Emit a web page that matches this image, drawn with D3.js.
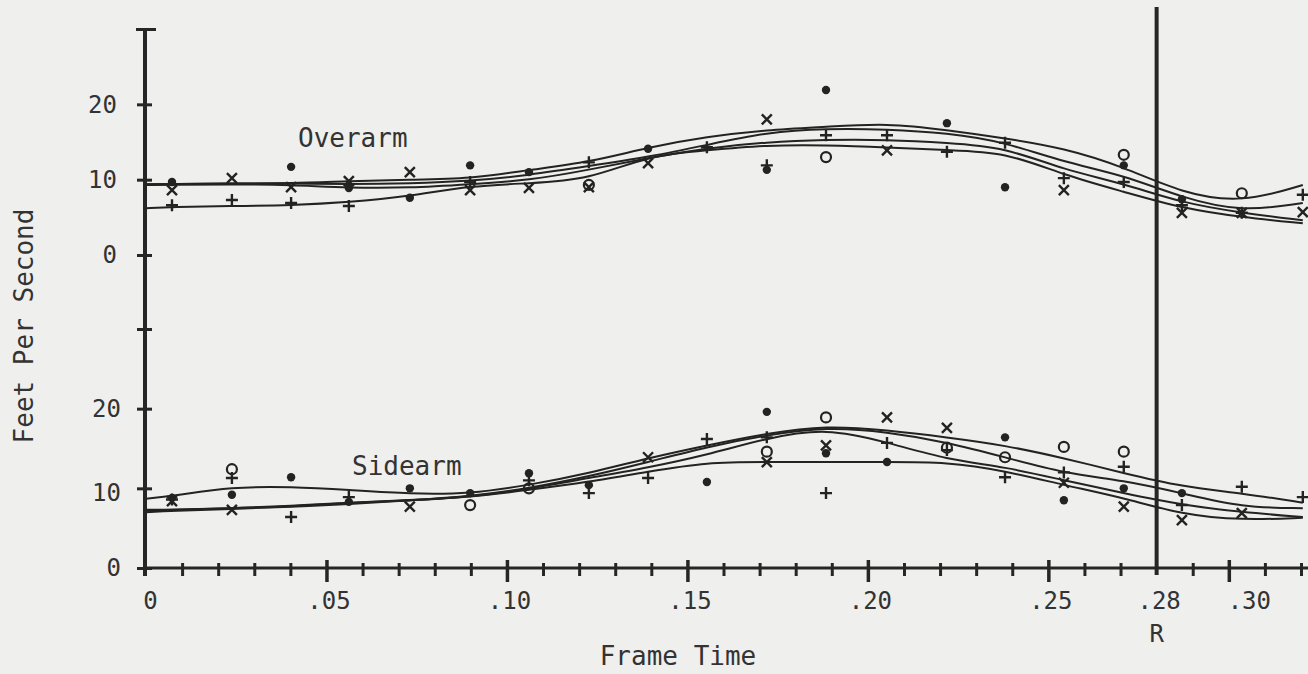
<!DOCTYPE html>
<html>
<head>
<meta charset="utf-8">
<script src="https://cdn.jsdelivr.net/npm/d3@7"></script>
<style>
  body { margin: 0; background: #efefed; }
  svg { display: block; font-family: 'DejaVu Sans Mono', monospace; }
</style>
</head>
<body>
<svg id="chart"></svg>
<script>
// frame times (s) of the digitised film frames
const frameTimes = [0.0072, 0.0238, 0.0402, 0.0562, 0.0731, 0.0898, 0.1061, 0.1227, 0.1391, 0.1554,
                    0.1720, 0.1884, 0.2053, 0.2219, 0.2380, 0.2543, 0.2709, 0.2870, 0.3036, 0.3205];
// fitted curves start at t = 0
const curveTimes = [0].concat(frameTimes);

// overarm fitted curves (ft/s)
const overarmFit1 = [9.4, 9.4, 9.5, 9.5, 9.8, 10.0, 10.1, 11.3, 12.3, 14.3, 15.7, 16.6, 17.0, 17.5, 16.6, 15.5, 14.2, 11.7, 8.2, 6.9, 9.3];
const overarmFit2 = [9.4, 9.4, 9.5, 9.5, 9.4, 9.5, 9.8, 10.6, 11.8, 13.0, 14.6, 16.3, 16.8, 16.7, 16.2, 15.0, 12.3, 10.6, 7.6, 5.7, 6.9];
const overarmFit3 = [9.3, 9.3, 9.4, 9.3, 8.9, 8.9, 9.4, 9.9, 11.3, 12.9, 14.2, 15.0, 15.3, 15.3, 14.9, 14.3, 11.3, 9.5, 6.9, 5.6, 4.6];
const overarmFit4 = [6.2, 6.4, 6.5, 6.6, 7.0, 7.8, 9.2, 9.5, 10.0, 13.2, 13.9, 14.6, 14.6, 14.3, 13.9, 13.7, 10.6, 8.4, 6.2, 5.0, 4.2];

// overarm plotted points, one array per symbol (null = not visible)
const overarmDot    = [9.7, null, 11.7, 8.9, 7.6, 11.9, 11.0, null, 14.1, null, 11.3, 21.9, null, 17.5, 9.0, null, 11.9, 7.4, null, null];
const overarmCross  = [8.6, 10.2, 9.0, 9.8, 11.0, 8.6, 8.9, 9.0, 12.2, null, 18.0, null, 13.9, null, null, 8.6, null, 5.6, 5.6, 5.7];
const overarmPlus   = [6.6, 7.3, 6.9, 6.5, null, 9.7, null, 12.3, null, 14.3, 11.9, 15.9, 15.9, 13.7, 14.9, 10.2, 9.7, 6.6, 5.6, 8.0];
const overarmCircle = [null, null, null, null, null, null, null, 9.3, null, null, null, 13.0, null, null, null, null, 13.3, null, 8.2, null];

// sidearm fitted curves (ft/s)
const sidearmFit1 = [8.7, 9.0, 10.2, 10.2, 9.8, 9.3, 9.3, 10.4, 11.9, 13.8, 15.4, 16.9, 17.9, 17.3, 16.4, 15.4, 13.8, 11.9, 10.2, 9.4, 8.2];
const sidearmFit2 = [7.3, 7.3, 7.5, 7.8, 8.2, 8.5, 9.0, 10.0, 11.5, 13.3, 15.2, 16.7, 17.7, 17.1, 15.8, 13.9, 11.9, 11.0, 9.4, 7.6, 7.5];
const sidearmFit3 = [7.2, 7.3, 7.5, 7.7, 8.2, 8.5, 8.9, 9.9, 11.3, 12.6, 14.2, 16.3, 17.6, 15.8, 13.6, 12.7, 11.0, 9.4, 7.9, 7.0, 6.4];
const sidearmFit4 = [7.0, 7.2, 7.4, 7.7, 8.0, 8.5, 8.9, 9.8, 10.8, 12.1, 13.3, 13.3, 13.3, 13.3, 13.3, 12.2, 10.4, 8.8, 6.7, 6.0, 6.3];

// sidearm plotted points
const sidearmDot    = [8.8, 9.2, 11.4, 8.3, 10.0, 9.4, 11.9, 10.4, null, 10.8, 19.6, 14.4, 13.3, null, 16.4, 8.5, 10.0, 9.4, null, null];
const sidearmCross  = [8.4, 7.3, null, null, 7.7, null, null, null, 13.9, null, 13.3, 15.4, 18.9, 17.6, null, 10.7, 7.7, 6.0, 6.9, null];
const sidearmPlus   = [8.6, 11.3, 6.4, 8.9, null, null, 11.0, 9.4, 11.3, 16.2, 16.4, 9.4, 15.7, 14.8, 11.4, 12.0, 12.7, 7.9, 10.2, 8.9];
const sidearmCircle = [null, 12.4, null, null, null, 7.9, 10.0, null, null, null, 14.6, 18.9, null, 15.1, 13.9, 15.2, 14.6, null, null, null];

// axis ticks
const xTickValues = [0, 0.05, 0.10, 0.15, 0.20, 0.25, 0.28, 0.30];
const xTickLabels = ['0', '.05', '.10', '.15', '.20', '.25', '.28', '.30'];
const yTickValues = [0, 10, 20, 30];
const releaseTime = 0.28;

class velocityChart {

  constructor(_config) {
    this.config = {
      parentElement: _config.parentElement,
      containerWidth: _config.containerWidth || 1308,
      containerHeight: _config.containerHeight || 674,
      margin: _config.margin || {top: 29, right: 7, bottom: 106, left: 146}
    }
    this.initVis();
  }

  initVis() {
    let vis = this;

    vis.width = vis.config.containerWidth - vis.config.margin.left - vis.config.margin.right;
    vis.height = vis.config.containerHeight - vis.config.margin.top - vis.config.margin.bottom;

    vis.svg = d3.select(vis.config.parentElement)
      .attr('width', vis.config.containerWidth)
      .attr('height', vis.config.containerHeight);

    vis.chart = vis.svg.append('g')
      .attr('transform', `translate(${vis.config.margin.left},${vis.config.margin.top})`);

    vis.xScale = d3.scaleLinear()
      .domain([0, 0.32])
      .range([0, vis.width]);

    // two panels share the one y axis line
    vis.yTop = d3.scaleLinear()
      .domain([0, 30])
      .range([226, 0]);

    vis.yBottom = d3.scaleLinear()
      .domain([0, 30])
      .range([vis.height, 300]);

    vis.renderVis();
  }

  drawAxes() {
    let vis = this;
    const ink = '#262626';

    // y axis ticks, one axis per panel
    [vis.yTop, vis.yBottom].forEach((scale, i) => {
      const g = vis.chart.append('g')
        .attr('class', 'axis y-axis')
        .call(d3.axisLeft(scale)
          .tickValues(yTickValues)
          .tickSize(9)
          .tickPadding(i == 0 ? 20 : 16)
          .tickFormat(d => d == 30 ? '' : d));
      g.select('.domain').remove();
      g.selectAll('.tick line')
        .attr('stroke', ink)
        .attr('stroke-width', 3)
        .attr('x1', d => d == 30 && i == 0 ? 10 : 6)
        .attr('x2', d => d == 30 && i == 0 ? -10 : -9);
      g.selectAll('.tick text')
        .attr('fill', '#333')
        .attr('dy', d => i == 1 && d == 10 ? '0.5em' : '0.32em')
        .style('font-size', '24px')
        .style('font-family', "'DejaVu Sans Mono', monospace");
    });

    vis.chart.append('line')
      .attr('x1', -1).attr('x2', -1)
      .attr('y1', vis.yTop(30)).attr('y2', vis.height + 8)
      .attr('stroke', ink).attr('stroke-width', 4);

    // minor x ticks every .01
    const minor = vis.chart.append('g')
      .attr('class', 'axis x-axis-minor')
      .attr('transform', `translate(0,${vis.height})`)
      .call(d3.axisBottom(vis.xScale)
        .tickValues(d3.range(1, 33).map(d => d / 100)
          .filter(d => Math.round(d * 100) % 5 != 0 && Math.abs(d - releaseTime) > 0.001))
        .tickSize(8)
        .tickFormat(''));
    minor.select('.domain').remove();
    minor.selectAll('.tick line')
      .attr('stroke', ink).attr('stroke-width', 3).attr('y1', -5);

    // major x ticks with labels
    const major = vis.chart.append('g')
      .attr('class', 'axis x-axis')
      .attr('transform', `translate(0,${vis.height})`)
      .call(d3.axisBottom(vis.xScale)
        .tickValues(xTickValues)
        .tickSize(14)
        .tickPadding(10)
        .tickFormat((d, i) => xTickLabels[i]));
    major.select('.domain').remove();
    major.selectAll('.tick line')
      .attr('stroke', ink).attr('stroke-width', 3.5).attr('y1', -8)
      .style('display', d => d == 0 || d == releaseTime ? 'none' : null);
    major.selectAll('.tick text')
      .attr('fill', '#333')
      .attr('dx', d => d == 0.30 ? 20 : (d == 0 ? 4 : 2))
      .style('font-size', '24px')
      .style('font-family', "'DejaVu Sans Mono', monospace");

    vis.chart.append('line')
      .attr('x1', -1).attr('x2', vis.width + 10)
      .attr('y1', vis.height).attr('y2', vis.height)
      .attr('stroke', ink).attr('stroke-width', 3);

    // release line
    vis.chart.append('line')
      .attr('x1', vis.xScale(releaseTime)).attr('x2', vis.xScale(releaseTime))
      .attr('y1', -22).attr('y2', vis.height + 7)
      .attr('stroke', ink).attr('stroke-width', 4);
  }

  drawPanel(scale, fits, dots, crosses, pluses, circles) {
    let vis = this;
    const ink = '#232323';

    const line = d3.line()
      .x((d, i) => vis.xScale(curveTimes[i]))
      .y(d => scale(d))
      .curve(d3.curveBasis);

    vis.chart.append('g')
      .selectAll('path')
      .data(fits)
      .join('path')
        .attr('d', line)
        .attr('fill', 'none')
        .attr('stroke', ink)
        .attr('stroke-width', 2);

    const pts = arr => arr.map((v, i) => ({t: frameTimes[i], v: v})).filter(d => d.v != null);
    const g = vis.chart.append('g');

    g.selectAll('circle.dot')
      .data(pts(dots))
      .join('circle')
        .attr('class', 'dot')
        .attr('cx', d => vis.xScale(d.t))
        .attr('cy', d => scale(d.v))
        .attr('r', 4.2)
        .attr('fill', ink);

    g.selectAll('circle.ring')
      .data(pts(circles))
      .join('circle')
        .attr('class', 'ring')
        .attr('cx', d => vis.xScale(d.t))
        .attr('cy', d => scale(d.v))
        .attr('r', 5)
        .attr('fill', 'none')
        .attr('stroke', ink)
        .attr('stroke-width', 2.2);

    g.selectAll('path.cross')
      .data(pts(crosses))
      .join('path')
        .attr('class', 'cross')
        .attr('d', d => {
          const x = vis.xScale(d.t), y = scale(d.v), s = 5;
          return `M${x - s},${y - s}L${x + s},${y + s}M${x - s},${y + s}L${x + s},${y - s}`;
        })
        .attr('stroke', ink)
        .attr('stroke-width', 2.4);

    g.selectAll('path.plus')
      .data(pts(pluses))
      .join('path')
        .attr('class', 'plus')
        .attr('d', d => {
          const x = vis.xScale(d.t), y = scale(d.v), s = 6;
          return `M${x - s},${y}L${x + s},${y}M${x},${y - s}L${x},${y + s}`;
        })
        .attr('stroke', ink)
        .attr('stroke-width', 2.4);
  }

  renderVis() {
    let vis = this;

    vis.drawAxes();

    vis.drawPanel(vis.yTop, [overarmFit1, overarmFit2, overarmFit3, overarmFit4],
      overarmDot, overarmCross, overarmPlus, overarmCircle);
    vis.drawPanel(vis.yBottom, [sidearmFit1, sidearmFit2, sidearmFit3, sidearmFit4],
      sidearmDot, sidearmCross, sidearmPlus, sidearmCircle);

    const label = (x, y, txt) => vis.svg.append('text')
      .attr('x', x).attr('y', y)
      .attr('fill', '#333')
      .style('font-size', '26px')
      .text(txt);

    label(298, 147, 'Overarm');
    label(352, 475, 'Sidearm');

    vis.svg.append('text')
      .attr('x', vis.config.margin.left + vis.xScale(releaseTime))
      .attr('y', 642)
      .attr('text-anchor', 'middle')
      .attr('fill', '#333')
      .style('font-size', '24px')
      .text('R');

    vis.svg.append('text')
      .attr('x', 678).attr('y', 665)
      .attr('text-anchor', 'middle')
      .attr('fill', '#333')
      .style('font-size', '26px')
      .text('Frame Time');

    vis.svg.append('text')
      .attr('transform', 'translate(33,326) rotate(-90)')
      .attr('text-anchor', 'middle')
      .attr('fill', '#333')
      .style('font-size', '26px')
      .text('Feet Per Second');
  }
}

new velocityChart({parentElement: '#chart'});
</script>
</body>
</html>
